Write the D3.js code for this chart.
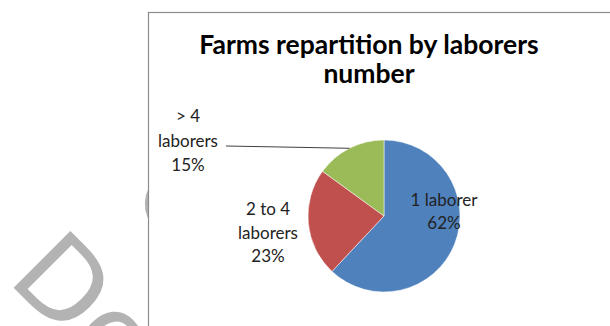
<!DOCTYPE html>
<html>
<head>
<meta charset="utf-8">
<script src="https://cdn.jsdelivr.net/npm/d3@7"></script>
<style>
  body { margin: 0; background: #fff; }
  svg { display: block; }
</style>
</head>
<body>
<svg width="610" height="326"></svg>
<script>
var categories = ["1 laborer", "2 to 4 laborers", "> 4 laborers"];
var labelLines = [["1 laborer"], ["2 to 4", "laborers"], ["> 4", "laborers"]];
var shares = [62, 23, 15];
var colors = ["#4F81BD", "#C0504D", "#9BBB59"];
var titleLines = ["Farms repartition by laborers", "number"];

var svg = d3.select("svg");
var width = +svg.attr("width");
var height = +svg.attr("height");

// faint watermark behind the chart area
var wm = svg.append("g").attr("fill", "#b3b3b3")
    .style("font-family", "DejaVu Sans").style("font-size", "110px");
wm.append("text")
  .attr("transform", "translate(6,280) rotate(45)")
  .text("Do");
wm.append("text")
  .attr("transform", "translate(185,200) rotate(45)")
  .attr("text-anchor", "middle")
  .attr("dy", "0.36em")
  .text("O");

// chart area
svg.append("rect")
   .attr("x", 148.5).attr("y", 12.5)
   .attr("width", 520).attr("height", 400)
   .attr("fill", "#fff")
   .attr("stroke", "#8c8c8c")
   .attr("stroke-width", 1.2);

var title = svg.append("text")
   .attr("text-anchor", "middle")
   .style("font-family", "Lato")
   .style("font-weight", "bold")
   .style("font-size", "26.5px")
   .attr("fill", "#000");
title.selectAll("tspan")
   .data(titleLines)
   .enter()
   .append("tspan")
   .attr("x", 369)
   .attr("y", function(d, i) { return 54 + i * 28.5; })
   .text(function(d) { return d; });

var cx = 384, cy = 216, r = 76;
var pie = d3.pie().sort(null).value(function(d) { return d; });
var arcs = pie(shares);
var arc = d3.arc().innerRadius(0).outerRadius(r);
var edgeArc = d3.arc().innerRadius(r).outerRadius(r);

var g = svg.append("g").attr("transform", "translate(" + cx + "," + cy + ")");
g.selectAll("path")
 .data(arcs)
 .enter()
 .append("path")
 .attr("d", arc)
 .attr("fill", function(d, i) { return colors[i]; })
 .attr("stroke", "#fff")
 .attr("stroke-width", 0.5);

// label anchors relative to pie centre (Excel best-fit placement)
var labelPos = [[60, -10], [-116, -1], [-196, -94]];
var lineGap = [22.5, 23.5, 24.5];

var labels = g.selectAll("text.lbl")
 .data(arcs)
 .enter()
 .append("text")
 .attr("class", "lbl")
 .attr("text-anchor", "middle")
 .style("font-family", "Lato")
 .style("font-size", "17px")
 .attr("fill", "#222");

labels.each(function(d, i) {
    var t = d3.select(this);
    var lines = labelLines[i].concat([shares[i] + "%"]);
    lines.forEach(function(s, k) {
        t.append("tspan")
         .attr("x", labelPos[i][0])
         .attr("y", labelPos[i][1] + k * lineGap[i])
         .text(s);
    });
});

// leader line for the small slice
var tip = edgeArc.centroid(arcs[2]);
g.append("line")
 .attr("x1", -158).attr("y1", -70)
 .attr("x2", tip[0]).attr("y2", tip[1])
 .attr("stroke", "#404040")
 .attr("stroke-width", 1);
</script>
</body>
</html>
